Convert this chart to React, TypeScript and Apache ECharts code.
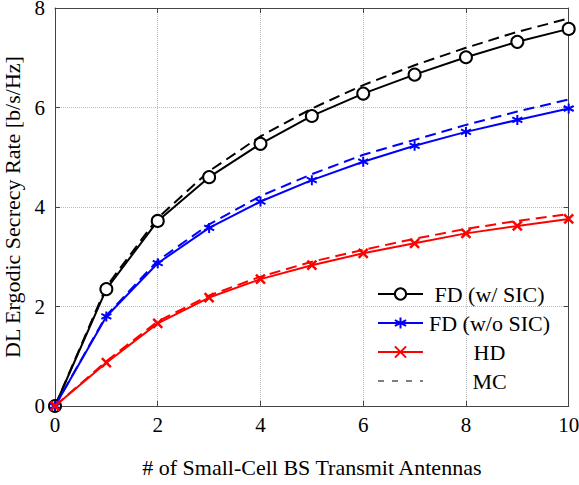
import React, { useEffect, useRef } from "react";
import * as echarts from "echarts";

const antennas = [0, 1, 2, 3, 4, 5, 6, 7, 8, 9, 10];
const fdWithSic = [0, 2.35, 3.72, 4.6, 5.27, 5.83, 6.28, 6.66, 7.01, 7.32, 7.58];
const fdWithoutSic = [0, 1.8, 2.87, 3.58, 4.11, 4.54, 4.91, 5.23, 5.51, 5.75, 5.98];
const hd = [0, 0.87, 1.66, 2.18, 2.55, 2.83, 3.07, 3.27, 3.47, 3.62, 3.76];
const mcFdWithSic = [0, 2.4, 3.78, 4.72, 5.42, 5.98, 6.45, 6.85, 7.2, 7.52, 7.79];
const mcFdWithoutSic = [0, 1.82, 2.92, 3.65, 4.22, 4.66, 5.05, 5.35, 5.65, 5.92, 6.16];
const mcHd = [0, 0.9, 1.7, 2.22, 2.6, 2.9, 3.14, 3.36, 3.56, 3.72, 3.86];

const legendNames = ["FD (w/ SIC)", "FD (w/o SIC)", "HD", "MC"];
const xTitle = "# of Small-Cell BS Transmit Antennas";
const yTitle = "DL Ergodic Secrecy Rate [b/s/Hz]";

const FONT = "Liberation Serif";
const ASTERISK = "path://M5,0 L5,10 M0.67,2.5 L9.33,7.5 M0.67,7.5 L9.33,2.5";
const CROSS = "path://M0,0 L10,10 M0,10 L10,0";

const pairs = (ys: number[]) => antennas.map((x, i) => [x, ys[i]]);

export default function App() {
  const ref = useRef<HTMLDivElement>(null);
  useEffect(() => {
    if (!ref.current) return;
    const chart = echarts.init(ref.current, undefined, { renderer: "svg" });
    const axisColor = "#444";
    const gridLine = { show: true, lineStyle: { color: "#bbb", type: "dotted" as const, width: 1 } };
    chart.setOption({
      animation: false,
      textStyle: { fontFamily: FONT },
      grid: { left: 55, right: 10.3, top: 8, bottom: 79, containLabel: false, outerBoundsMode: "none" },
      xAxis: [
        {
          type: "value",
          min: 0,
          max: 10,
          interval: 2,
          name: xTitle,
          nameLocation: "middle",
          nameGap: 50,
          nameTextStyle: { fontFamily: FONT, fontSize: 22, color: "#000" },
          axisLine: { show: true, onZero: false, lineStyle: { color: axisColor, width: 1 } },
          axisTick: { show: true, inside: true, length: 5, lineStyle: { color: axisColor } },
          axisLabel: { fontFamily: FONT, fontSize: 21, color: "#000", margin: 8 },
          splitLine: gridLine,
        },
        {
          type: "value",
          position: "top",
          min: 0,
          max: 10,
          interval: 2,
          axisLine: { show: true, onZero: false, lineStyle: { color: axisColor, width: 1 } },
          axisTick: { show: true, inside: true, length: 5, lineStyle: { color: axisColor } },
          axisLabel: { show: false },
          splitLine: { show: false },
        },
      ],
      yAxis: [
        {
          type: "value",
          min: 0,
          max: 8,
          interval: 2,
          name: yTitle,
          nameLocation: "middle",
          nameGap: 25,
          nameTextStyle: { fontFamily: FONT, fontSize: 22, color: "#000" },
          axisLine: { show: true, onZero: false, lineStyle: { color: axisColor, width: 1 } },
          axisTick: { show: true, inside: true, length: 5, lineStyle: { color: axisColor } },
          axisLabel: { fontFamily: FONT, fontSize: 21, color: "#000", margin: 10 },
          splitLine: gridLine,
        },
        {
          type: "value",
          position: "right",
          min: 0,
          max: 8,
          interval: 2,
          axisLine: { show: true, onZero: false, lineStyle: { color: axisColor, width: 1 } },
          axisTick: { show: true, inside: true, length: 5, lineStyle: { color: axisColor } },
          axisLabel: { show: false },
          splitLine: { show: false },
        },
      ],
      legend: {
        orient: "vertical",
        left: 377,
        top: 283,
        itemWidth: 45,
        itemHeight: 14,
        itemGap: 7,
        padding: 0,
        data: [
          { name: legendNames[0] },
          { name: legendNames[1] },
          { name: legendNames[2] },
          { name: legendNames[3], lineStyle: { width: 1, type: [6, 8] }, itemStyle: { opacity: 0 } },
        ],
        formatter: (name: string) => `{a|${name}}`,
        textStyle: {
          fontFamily: FONT,
          fontSize: 22,
          color: "#000",
          rich: { a: { width: 123, align: "center", fontFamily: FONT, fontSize: 22, lineHeight: 23 } },
        },
      },
      series: [
        {
          name: legendNames[3],
          type: "line",
          data: pairs(mcFdWithSic),
          symbol: "none",
          lineStyle: { color: "#000", width: 2, type: [11, 6] },
          itemStyle: { color: "#000" },
          z: 2,
        },
        {
          name: legendNames[3],
          type: "line",
          data: pairs(mcFdWithoutSic),
          symbol: "none",
          lineStyle: { color: "#0000ff", width: 2, type: [11, 6] },
          itemStyle: { color: "#0000ff" },
          z: 2,
        },
        {
          name: legendNames[3],
          type: "line",
          data: pairs(mcHd),
          symbol: "none",
          lineStyle: { color: "#ff0000", width: 2, type: [11, 6] },
          itemStyle: { color: "#ff0000" },
          z: 2,
        },
        {
          name: legendNames[0],
          type: "line",
          data: pairs(fdWithSic),
          symbol: "emptyCircle",
          symbolSize: 12,
          lineStyle: { color: "#000", width: 2 },
          itemStyle: { color: "#000", borderColor: "#000", borderWidth: 2 },
          z: 3,
        },
        {
          name: legendNames[1],
          type: "line",
          data: pairs(fdWithoutSic),
          symbol: ASTERISK,
          symbolSize: 10,
          lineStyle: { color: "#0000ff", width: 2 },
          itemStyle: { color: "#0000ff", borderColor: "#0000ff", borderWidth: 2 },
          z: 4,
        },
        {
          name: legendNames[2],
          type: "line",
          data: pairs(hd),
          symbol: CROSS,
          symbolSize: 9,
          lineStyle: { color: "#ff0000", width: 2 },
          itemStyle: { color: "#ff0000", borderColor: "#ff0000", borderWidth: 2.5 },
          z: 5,
        },
      ],
    });
    return () => chart.dispose();
  }, []);
  return <div ref={ref} style={{ position: "absolute", left: 0, top: 0, width: 579, height: 485 }} />;
}
